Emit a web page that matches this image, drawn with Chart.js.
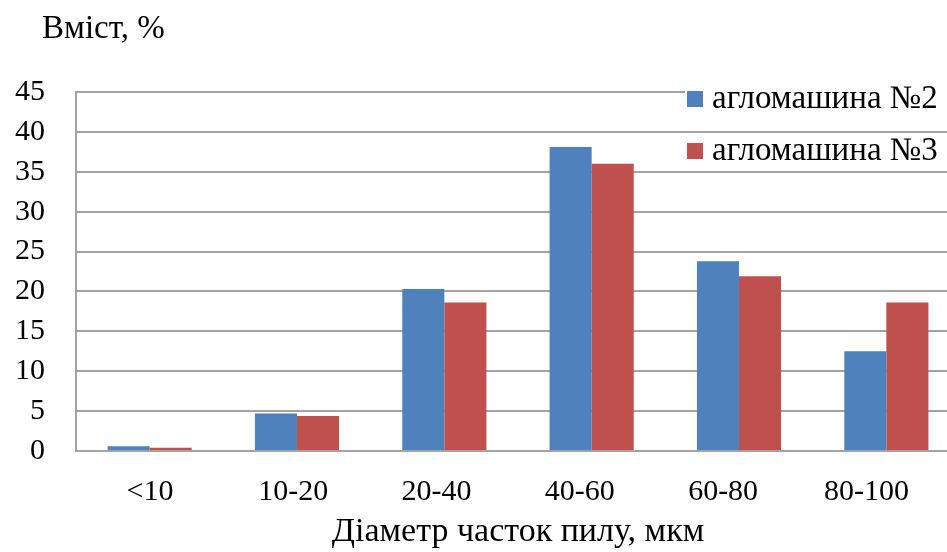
<!DOCTYPE html>
<html>
<head>
<meta charset="utf-8">
<script src="https://cdn.jsdelivr.net/npm/chart.js@4.4.1/dist/chart.umd.min.js"></script>
<style>
  html, body { margin: 0; padding: 0; background: #ffffff; overflow: hidden; }
  #wrap { width: 947px; height: 552px; position: relative; overflow: hidden; }
  #c { display: block; }
</style>
</head>
<body>
<div id="wrap"><canvas id="c" width="962" height="552"></canvas></div>
<script>
// Particle size fractions of sinter-machine dust
const categories = ['<10', '10-20', '20-40', '40-60', '60-80', '80-100'];
const seriesNames = ['агломашина №2', 'агломашина №3'];
const machine2 = [0.6, 4.7, 20.3, 38.1, 23.8, 12.5];
const machine3 = [0.4, 4.4, 18.6, 36.0, 21.9, 18.6];
const yTicks = [0, 5, 10, 15, 20, 25, 30, 35, 40, 45];
const yTitle = 'Вміст, %';
const xTitle = 'Діаметр часток пилу, мкм';

const SERIF = '"Liberation Serif", "Times New Roman", serif';
const BLUE = '#4f81bd';
const RED = '#c0504d';
const GRID = '#a3a3a3';

// Legend drawn inside the plot, top right, on a white backing
const innerLegend = {
  id: 'innerLegend',
  afterDatasetsDraw(chart) {
    const ctx = chart.ctx;
    ctx.save();
    ctx.font = '33px ' + SERIF;
    ctx.textBaseline = 'alphabetic';
    chart.data.datasets.forEach((ds, i) => {
      const top = 91 + i * 52;
      const sqX = 687, sqSize = 16;
      ctx.fillStyle = '#ffffff';
      ctx.fillRect(sqX - 2, top - 3, 962 - sqX, 30);
      ctx.fillStyle = ds.backgroundColor;
      ctx.fillRect(sqX, top, sqSize, sqSize);
      ctx.fillStyle = '#000000';
      ctx.fillText(ds.label, 712, top + 17);
    });
    ctx.restore();
  }
};

// Value-axis caption above the axis
const yCaption = {
  id: 'yCaption',
  afterDraw(chart) {
    const ctx = chart.ctx;
    ctx.save();
    ctx.font = '33px ' + SERIF;
    ctx.fillStyle = '#000000';
    ctx.textBaseline = 'alphabetic';
    ctx.fillText(yTitle, 42, 38);
    ctx.restore();
  }
};

new Chart(document.getElementById('c'), {
  type: 'bar',
  data: {
    labels: categories,
    datasets: [
      { label: seriesNames[0], data: machine2, backgroundColor: BLUE },
      { label: seriesNames[1], data: machine3, backgroundColor: RED }
    ]
  },
  options: {
    responsive: false,
    animation: false,
    devicePixelRatio: 1,
    layout: { padding: { top: 92, right: 2, left: 0, bottom: 0 } },
    datasets: { bar: { barPercentage: 1.0, categoryPercentage: 0.571 } },
    plugins: { legend: { display: false }, tooltip: { enabled: false } },
    scales: {
      // category axis carrying the bars; only its baseline is shown
      x: {
        grid: { display: false, drawTicks: false },
        border: { display: true, color: GRID, width: 2 },
        ticks: { display: false },
        afterFit(scale) { scale.height = 0; }
      },
      // label axis: category names at a slightly tighter pitch than the bar groups
      xLabels: {
        type: 'linear',
        position: 'bottom',
        offset: false,
        min: -0.516,
        max: 5.653,
        afterBuildTicks(scale) { scale.ticks = categories.map((c, i) => ({ value: i })); },
        grid: { display: false, drawTicks: false, offset: false },
        border: { display: false },
        ticks: {
          color: '#000', font: { family: SERIF, size: 30 }, padding: 23, maxRotation: 0,
          callback: (v) => categories[v]
        },
        title: { display: true, text: xTitle, color: '#000', font: { family: SERIF, size: 34 }, padding: { top: 0, bottom: 0 } },
        afterFit(scale) { scale.height = 101; }
      },
      y: {
        min: 0, max: 45,
        afterBuildTicks(scale) { scale.ticks = yTicks.map(v => ({ value: v })); },
        grid: { color: GRID, lineWidth: 2, drawTicks: false },
        border: { display: true, color: GRID, width: 2 },
        ticks: { color: '#000', font: { family: SERIF, size: 30 }, padding: 31 },
        afterFit(scale) { scale.width = 76; }
      }
    }
  },
  plugins: [innerLegend, yCaption]
});
</script>
</body>
</html>
